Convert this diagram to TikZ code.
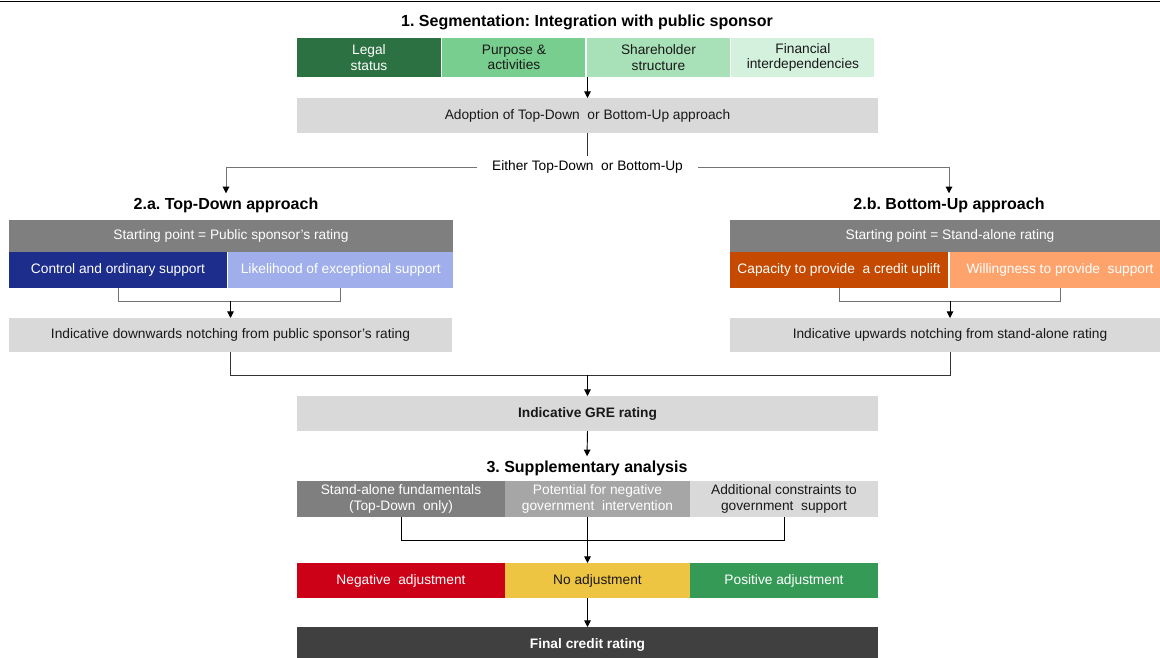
\documentclass[tikz,border=0pt]{standalone}
\usepackage{fontspec}
\setmainfont{Liberation Sans}
\usetikzlibrary{positioning,arrows.meta,calc}
\definecolor{segA}{HTML}{2B7141}
\definecolor{segB}{HTML}{78CE8E}
\definecolor{segC}{HTML}{A8E1B7}
\definecolor{segD}{HTML}{D4F1DD}
\definecolor{lightgrey}{HTML}{D9D9D9}
\definecolor{headgrey}{HTML}{7F7F7F}
\definecolor{midgrey}{HTML}{A6A6A6}
\definecolor{darkgrey}{HTML}{404040}
\definecolor{tdA}{HTML}{1C2D8C}
\definecolor{tdB}{HTML}{A0AFEB}
\definecolor{buA}{HTML}{C54A00}
\definecolor{buB}{HTML}{FFA36C}
\definecolor{adjneg}{HTML}{CC0016}
\definecolor{adjzero}{HTML}{EEC443}
\definecolor{adjpos}{HTML}{359A56}
\frenchspacing
\tikzset{
wd/.style={minimum width=#1*0.75pt},
ht/.style={minimum height=#1*0.75pt},
cell/.style={anchor=north west,inner sep=0pt,outer sep=0pt,align=center,text=black!90,
font=\fontsize{10.3}{11.5}\selectfont},
whitecell/.style={cell,text=white},
title/.style={inner sep=3pt,font=\fontsize{12}{14}\selectfont\bfseries},
plain/.style={inner xsep=11pt,inner ysep=3pt,font=\fontsize{10.3}{11.5}\selectfont},
link/.style={draw=black!55,line width=0.7pt},
joinline/.style={draw=black!80,line width=0.7pt},
arr/.style={line width=0.7pt,-{Triangle[length=5pt,width=5pt,color=black]}}
}

\begin{document}
\begin{tikzpicture}[x=0.75pt,y=-0.75pt]
\useasboundingbox (0,0) rectangle (1160,657);
\draw[line width=0.8pt] (0,1.5) -- (1160,1.5);

% 1. segmentation
\node[title] (segt) at (587,22) {1. Segmentation: Integration with public sponsor};
\node[whitecell,fill=segA,wd=144,ht=39] (legal) at (297,38) {Legal\\status};
\node[cell,fill=segB,wd=143,ht=39,right=1.1pt of legal] (purpose) {Purpose \&\\activities};
\node[cell,fill=segC,wd=143,ht=39,right=1.1pt of purpose] (share) {Shareholder\\structure};
\node[cell,fill=segD,wd=143,ht=39,right=1.1pt of share] (finance) {Financial\\interdependencies};
\node[cell,fill=lightgrey,wd=581,ht=35] (adopt) at (297,98) {Adoption of Top-Down\ \ or Bottom-Up approach};
\node[plain] (either) at (587.5,167) {Either Top-Down\ \ or Bottom-Up};

% 2.a top-down
\node[title] (tdt) at (226,205) {2.a. Top-Down approach};
\node[whitecell,fill=headgrey,wd=444,ht=32] (tdstart) at (9,220) {Starting point = Public sponsor's rating};
\node[whitecell,fill=tdA,wd=218,ht=36] (tdctrl) at (9,252) {Control and ordinary support};
\node[whitecell,fill=tdB,wd=225,ht=36,right=1pt of tdctrl] (tdlike) {Likelihood of exceptional support};
\node[cell,fill=lightgrey,wd=443,ht=34] (tdnotch) at (9,318) {Indicative downwards notching from public sponsor's rating};

% 2.b bottom-up
\node[title] (but) at (949,205) {2.b. Bottom-Up approach};
\node[whitecell,fill=headgrey,wd=440,ht=32] (bustart) at (730,220) {Starting point = Stand-alone rating};
\node[whitecell,fill=buA,wd=218,ht=36] (bucap) at (730,252) {Capacity to provide\ \ a credit uplift};
\node[whitecell,fill=buB,wd=220,ht=36,right=1.5pt of bucap] (buwill) {Willingness to provide\ \ support};
\node[cell,fill=lightgrey,wd=440,ht=34] (bunotch) at (730,318) {Indicative upwards notching from stand-alone rating};

% indicative rating
\node[cell,fill=lightgrey,wd=581,ht=35,font=\fontsize{10.3}{11.5}\selectfont\bfseries] (gre) at (297,396) {Indicative GRE rating};

% 3. supplementary analysis
\node[title] (supt) at (587,468) {3. Supplementary analysis};
\node[whitecell,fill=headgrey,wd=208,ht=36] (sfund) at (297,481) {Stand-alone fundamentals\\(Top-Down\ \ only)};
\node[whitecell,fill=midgrey,wd=185,ht=36,right=0pt of sfund] (pneg) {Potential for negative\\government\ \ intervention};
\node[cell,fill=lightgrey,wd=188,ht=36,right=0pt of pneg] (addc) {Additional constraints to\\government\ \ support};
\node[whitecell,fill=adjneg,wd=208,ht=35] (neg) at (297,563) {Negative\ \ adjustment};
\node[cell,fill=adjzero,wd=185,ht=35,right=0pt of neg] (noadj) {No adjustment};
\node[whitecell,fill=adjpos,wd=188,ht=35,right=0pt of noadj] (pos) {Positive adjustment};
\node[whitecell,fill=darkgrey,wd=581,ht=36,font=\fontsize{10.3}{11.5}\selectfont\bfseries] (final) at (297,627) {Final credit rating};

% connectors
\draw[arr] (adopt.north |- share.south) -- (adopt.north);
\draw[joinline] (adopt.south) -- (either.north);
\draw[arr,draw=black!55] (either.west) -| (tdt.north);
\draw[arr,draw=black!55] (either.east) -| (but.north);
\draw[link] (tdctrl.south) -- ++(0,13) coordinate (tdjoin) -| (tdlike.south);
\draw[arr] (tdnotch.north |- tdjoin) -- (tdnotch.north);
\draw[link] (bucap.south) -- ++(0,13) coordinate (bujoin) -| (buwill.south);
\draw[arr] (bunotch.north |- bujoin) -- (bunotch.north);
\draw[joinline] (tdnotch.south) -- ++(0,23) coordinate (merge) -| (bunotch.south);
\draw[arr] (gre.north |- merge) -- (gre.north);
\draw[arr] (gre.south) -- (supt.north);
\draw[joinline,draw=black] (sfund.south) -- ++(0,23) -| (addc.south);
\draw[arr] (gre.south |- pneg.south) -- (gre.south |- noadj.north);
\draw[arr] (final.north |- noadj.south) -- (final.north);
\end{tikzpicture}
\end{document}
